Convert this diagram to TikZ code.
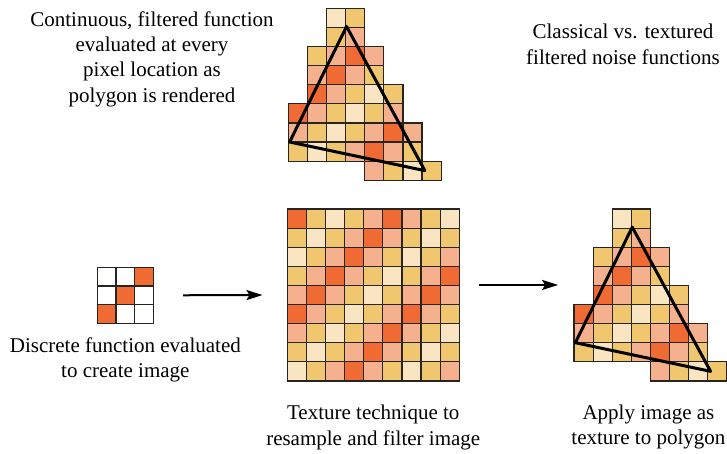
\documentclass[tikz,border=0pt]{standalone}
\usepackage{fontspec}
\setmainfont{Liberation Serif}
\usetikzlibrary{positioning,fit,arrows.meta}

\definecolor{noiseO}{RGB}{239,107,51}
\definecolor{noiseP}{RGB}{245,177,141}
\definecolor{noiseY}{RGB}{240,199,110}
\definecolor{noiseC}{RGB}{250,229,194}
\definecolor{gridline}{RGB}{40,36,32}

\tikzset{
    cell/.style={draw=gridline, line width=1.2pt},
    cellO/.style={cell, fill=noiseO},
    cellP/.style={cell, fill=noiseP},
    cellY/.style={cell, fill=noiseY},
    cellC/.style={cell, fill=noiseC},
    cellW/.style={cell, fill=white},
    cellx/.style={},
    gridbox/.style={inner sep=0pt, draw=none},
    tri/.style={line width=3pt, line join=round}
}

% polygon over the cells that it covers
\newcommand{\trigrid}[2]{%
  \begin{scope}[shift={#1}, x=19.1pt, y=-19.1pt]
    \foreach \row/\cells in {0/{x,x,C,Y}, 1/{x,x,Y,P}, 2/{x,Y,P,O,P}, 3/{x,P,O,P,Y},
        4/{x,O,P,Y,C,Y}, 5/{O,P,Y,C,Y,P}, 6/{P,Y,C,Y,P,O,P}, 7/{Y,C,Y,P,O,P,Y},
        8/{x,x,x,x,P,Y,C,Y}}
      \foreach \k [count=\col from 0] in \cells
        \path[cell\k] (\col,\row) rectangle ++(1,1);
    \node[gridbox, fit={(0,0) (8,9)}] (#2) {};
    \draw[tri] (3.05,0.95) -- (0.07,7) -- (7.15,8.5) -- cycle;
  \end{scope}}

\begin{document}
\begin{tikzpicture}[
    x=1pt, y=-1pt,
    lbl/.style={align=center, inner sep=0pt, font=\fontsize{21}{25.3}\selectfont},
    arr/.style={-{Stealth[length=16pt, width=10pt, inset=3pt]}, line width=2pt}
]
\useasboundingbox (0,0) rectangle (727,453);

% classical: filtered function on the polygon
\trigrid{(288.3,8.3)}{topgrid}

% discrete image
\begin{scope}[shift={(97.3,267.3)}, x=18.7pt, y=-18.7pt]
  \foreach \row/\cells in {0/{W,W,O}, 1/{W,O,W}, 2/{O,W,W}}
    \foreach \k [count=\col from 0] in \cells
      \path[cell\k] (\col,\row) rectangle ++(1,1);
  \node[gridbox, fit={(0,0) (3,3)}] (seedgrid) {};
\end{scope}

% resampled, filtered texture
\begin{scope}[shift={(287.3,209)}, x=19.1pt, y=-19.1pt]
  \foreach \row/\cells in {0/{O,Y,C,Y,P,O,P,Y,C}, 1/{Y,C,Y,P,O,P,Y,C,Y},
      2/{C,Y,P,O,P,Y,C,Y,P}, 3/{Y,P,O,P,Y,C,Y,P,O}, 4/{P,O,P,Y,C,Y,P,O,P},
      5/{O,P,Y,C,Y,P,O,P,Y}, 6/{P,Y,C,Y,P,O,P,Y,C}, 7/{Y,C,Y,P,O,P,Y,C,Y},
      8/{C,Y,P,O,P,Y,C,Y,P}}
    \foreach \k [count=\col from 0] in \cells
      \path[cell\k] (\col,\row) rectangle ++(1,1);
  \node[gridbox, fit={(0,0) (9,9)}] (texgrid) {};
\end{scope}

% textured polygon
\trigrid{(574,209)}{polygrid}

\node[lbl, anchor=north] (contlbl) at (152,11.4) {Continuous, filtered function\\evaluated at every\\pixel location as\\polygon is rendered};
\node[lbl, anchor=north] (titlelbl) at (623,24) {Classical vs. textured\\filtered noise functions};
\node[lbl, below=14pt of seedgrid] (seedlbl) {Discrete function evaluated\\to create image};
\node[lbl, below=24pt of texgrid] (texlbl) {Texture technique to\\resample and filter image};
\node[lbl, below=23.5pt of polygrid, xshift=-2pt] (polylbl) {Apply image as\\texture to polygon};

\draw[arr, shorten <=29.5pt, shorten >=24.6pt] (seedgrid.east) -- (texgrid.west);
\draw[arr, shorten <=19.1pt, shorten >=15.7pt] ([yshift=10pt]texgrid.east) -- ([yshift=10pt]polygrid.west);
\end{tikzpicture}
\end{document}
